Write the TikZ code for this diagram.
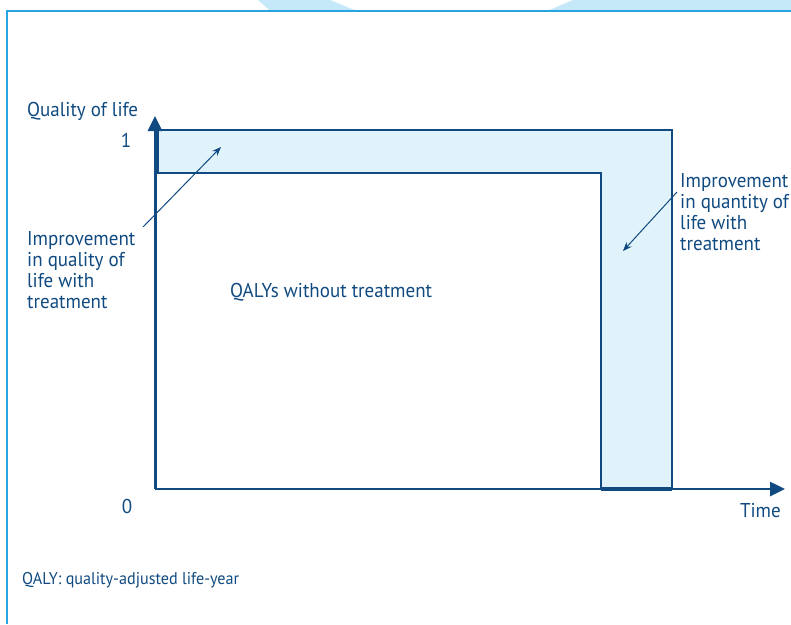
\documentclass[tikz,border=0pt]{standalone}
\usepackage{fontspec}
\setmainfont[FakeStretch=0.95]{PT Sans}
\usetikzlibrary{arrows.meta}
\definecolor{qblue}{RGB}{16,74,128}
\definecolor{qfill}{RGB}{224,242,250}
\definecolor{qframe}{RGB}{40,165,222}
\definecolor{qwater}{RGB}{198,233,249}

\begin{document}
\begin{tikzpicture}
      [x=1pt,y=-1pt
      ,fil/.style={fill=qfill,draw=qblue,line width=1.5pt}
      ,lin/.style={draw=qblue,line width=1.5pt}
      ,axis/.style={draw=qblue,line width=3pt,-{Triangle[length=15pt,width=14pt]}}
      ,lab/.style={text=qblue,font=\fontsize{20}{21}\selectfont,inner sep=0pt}
      ,pointer/.style={draw=qblue,line width=1pt,-{Stealth[length=9pt,width=7pt]}}
      ]
        \useasboundingbox (0,0) rectangle (791,624);
        % background frame
        \fill[qwater] (258,0) -- (330,0) -- (357,11) -- (270,11) -- cycle;
        \fill[qwater] (573,0) -- (791,0) -- (791,11) -- (547,11) -- cycle;
        \draw[qframe,line width=1.5pt] (7,624) -- (7,11) -- (791,11);
        % QALY areas
        \coordinate (o) at (155,489);
        \coordinate (ytip) at (155,116);
        \coordinate (xtip) at (785,489);
        \draw[fil] (155,130) -- (672,130) -- (672,489) -- (601,489)
          -- (601,173) -- (155,173) -- cycle;
        \draw[lin] (155,173) -- (601,173) -- (601,489);
        \draw[qblue,line width=5pt] (156,130) -- (156,173);
        \draw[qblue,line width=4pt] (601,488.5) -- (672,488.5);
        \draw[axis] (o) -- (ytip);
        \draw[axis,line width=2.5pt] (o) -- (xtip);
        % labels
        \node[lab,anchor=base west] (qol) at (27,116) {Quality of life};
        \node[lab,anchor=base] (one) at (126,147) {1};
        \node[lab,anchor=base] (zero) at (127,513) {0};
        \node[lab,anchor=base east] (time) at (781,517) {Time};
        \node[lab,anchor=base west] (without) at (230,297) {QALYs without treatment};
        \node[lab,anchor=north west,align=left] (quality) at (27,231)
          {Improvement\\in quality of\\life with\\treatment};
        \node[lab,anchor=north west,align=left] (quantity) at (680,173)
          {Improvement\\in quantity of\\life with\\treatment};
        \node[lab,font=\fontsize{17}{20}\selectfont,anchor=base west] (note) at (22,584)
          {QALY: quality-adjusted life-year};
        % pointers
        \coordinate (qa) at (143,227);
        \coordinate (qb) at (221,147);
        \coordinate (na) at (677,192);
        \coordinate (nb) at (623,251);
        \draw[pointer] (qa) -- (qb);
        \draw[pointer] (na) -- (nb);
      \end{tikzpicture}
\end{document}
